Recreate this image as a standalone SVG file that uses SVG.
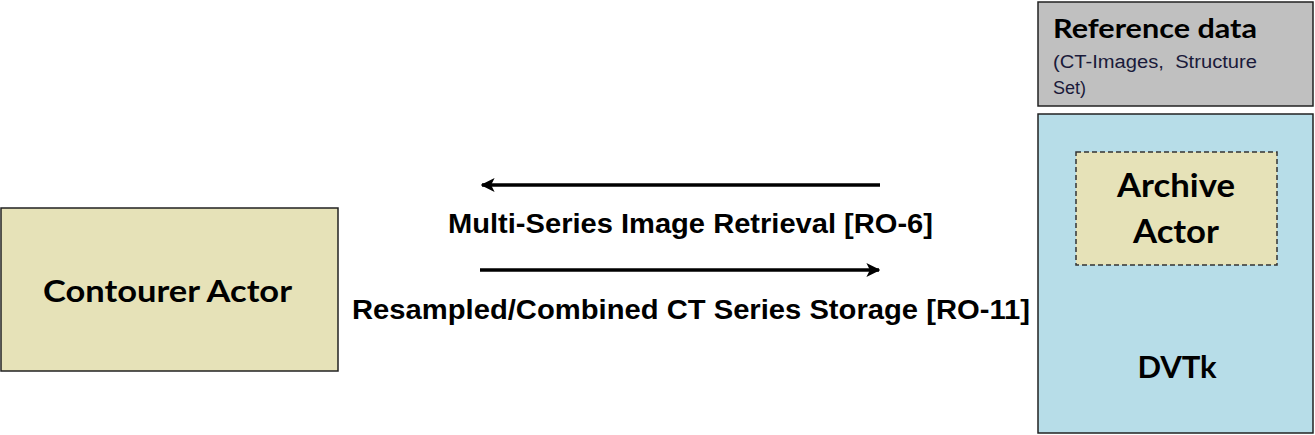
<svg xmlns="http://www.w3.org/2000/svg" width="1315" height="435" viewBox="0 0 1315 435">
<style>
.box{stroke:#222;stroke-width:1.5}
.cal{font-family:Lato,"Open Sans","Liberation Sans",sans-serif;font-weight:bold;fill:#000}
.ar{font-family:"Liberation Sans",Arial,sans-serif;font-weight:bold;font-size:27px;fill:#000}
.sm{font-family:"Liberation Sans",Arial,sans-serif;font-size:18px;fill:#1a1a3a}
.line{stroke:#000;stroke-width:3.5;fill:none}
</style>
<defs>
<marker id="ah" viewBox="0 0 10 10" refX="9" refY="5" markerWidth="4" markerHeight="4" markerUnits="strokeWidth" orient="auto">
<path d="M0,0 L10,5 L0,10 L2.5,5 Z" fill="#000"/>
</marker>
</defs>
<rect width="1315" height="435" fill="#fff"/>
<g id="reference-data">
<rect class="box" x="1038" y="2" width="275" height="104" fill="#c0c0c0"/>
<text class="cal" x="1053" y="38" font-size="27" textLength="204" lengthAdjust="spacingAndGlyphs">Reference data</text>
<text class="sm" x="1053" y="68" textLength="204" lengthAdjust="spacingAndGlyphs" xml:space="preserve">(CT-Images,  Structure</text>
<text class="sm" x="1053" y="94">Set)</text>
</g>
<g id="dvtk">
<rect class="box" x="1038" y="114" width="275" height="319" fill="#b7dde8"/>
<text class="cal" x="1177" y="378" font-size="31" text-anchor="middle">DVTk</text>
</g>
<g id="archive-actor">
<rect x="1076" y="152" width="201" height="113" fill="#e6e2b8" stroke="#333" stroke-width="1.5" stroke-dasharray="5,3"/>
<text class="cal" x="1176" y="197" font-size="32" text-anchor="middle" textLength="118" lengthAdjust="spacingAndGlyphs">Archive</text>
<text class="cal" x="1176" y="243" font-size="32" text-anchor="middle" textLength="86" lengthAdjust="spacingAndGlyphs">Actor</text>
</g>
<g id="contourer-actor">
<rect class="box" x="1" y="208" width="337" height="163" fill="#e6e2b8"/>
<text class="cal" x="43" y="302" font-size="31" textLength="249" lengthAdjust="spacingAndGlyphs">Contourer Actor</text>
</g>
<g id="connectors">
<line class="line" x1="880" y1="185" x2="482" y2="185" marker-end="url(#ah)"/>
<text class="ar" x="448" y="233" textLength="485" lengthAdjust="spacingAndGlyphs">Multi-Series Image Retrieval [RO-6]</text>
<line class="line" x1="480" y1="270" x2="879" y2="270" marker-end="url(#ah)"/>
<text class="ar" x="352" y="319" textLength="678" lengthAdjust="spacingAndGlyphs">Resampled/Combined CT Series Storage [RO-11]</text>
</g>
</svg>
